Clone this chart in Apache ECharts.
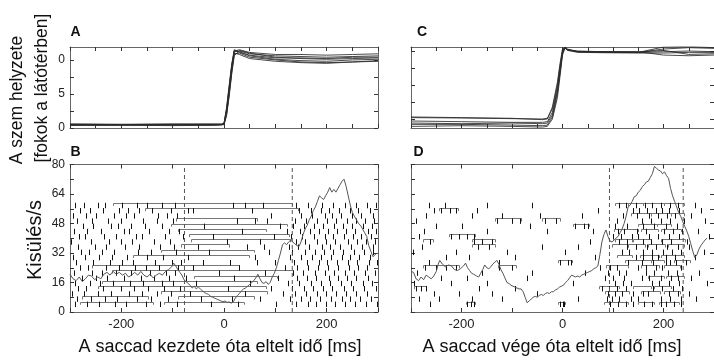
<!DOCTYPE html>
<html><head><meta charset="utf-8">
<script src="https://cdn.jsdelivr.net/npm/echarts@6/dist/echarts.min.js"></script>
<style>html,body{margin:0;padding:0;background:#fff}#c{width:714px;height:360px}</style>
</head><body><div id="c"></div><script>
const FONT = '"Liberation Sans", Arial, Helvetica, sans-serif';

// ---------- Panel A: eye position aligned to saccade onset ----------
const timeA = [-300,-200,-100,-20,-5,0,5,10,15,20,30,50,100,150,200,250,300];
const eyeA = [
 [0.5,0.45,0.5,0.5,0.5,0.6,2.5,5.5,8.8,11.2,11.3,10.9,10.6,10.5,10.4,10.5,10.6],
 [0.4,0.4,0.35,0.4,0.45,0.5,1.8,4.6,7.9,10.6,11.4,11.0,10.4,10.2,10.1,10.2,10.3],
 [0.6,0.55,0.6,0.55,0.6,0.7,3.0,6.2,9.4,11.5,11.2,10.6,10.1,9.9,9.8,10.0,10.1],
 [0.45,0.5,0.45,0.45,0.5,0.55,2.2,5.0,8.2,10.9,11.0,10.4,10.0,9.7,9.6,9.7,9.9],
 [0.55,0.5,0.55,0.6,0.55,0.65,2.8,6.0,9.1,11.3,11.5,11.1,10.8,10.8,10.7,10.8,10.9],
 [0.5,0.5,0.45,0.5,0.5,0.6,2.0,4.9,8.4,11.0,10.8,10.2,9.8,9.6,9.5,9.7,9.8],
 [0.4,0.45,0.5,0.45,0.5,0.55,2.6,5.8,9.0,11.4,11.1,10.7,10.3,10.3,10.2,10.4,10.4]
];
// ---------- Panel C: eye position aligned to saccade end ----------
const timeC = [-300,-200,-100,-40,-30,-20,-10,-5,0,5,10,30,80,150,200,250,300];
const eyeC = [
 [0.2,0.15,0.05,0.0,0.1,1.5,5.0,7.8,10.2,10.6,10.3,10.0,9.9,9.9,10.0,10.1,10.0],
 [-0.3,-0.4,-0.5,-0.5,-0.4,1.0,4.5,7.3,10.0,10.7,10.4,10.0,9.95,9.9,10.4,10.6,10.5],
 [-0.8,-0.8,-0.9,-1.0,-0.9,0.3,3.8,6.8,9.8,10.6,10.2,10.05,10.0,10.0,9.5,9.4,9.5],
 [-1.1,-1.0,-1.1,-1.2,-1.1,0.0,3.2,6.3,9.5,10.5,10.3,10.1,10.0,9.9,10.7,10.8,10.6],
 [0.3,0.2,0.1,-0.1,0.0,1.8,5.5,8.2,10.4,10.6,10.2,9.9,9.85,9.8,9.8,9.9,9.9],
 [-0.6,-0.7,-0.6,-0.7,-0.6,0.6,4.2,7.0,9.9,10.7,10.3,10.0,10.0,9.95,10.2,9.6,9.7]
];

// ---------- Panel B: firing rate aligned to saccade onset ----------
const rateBt = [-300,-294,-288,-282,-276,-270,-264,-258,-252,-246,-240,-234,-228,-222,-216,-210,-204,-198,-192,-186,-180,-174,-168,-162,-156,-150,-144,-138,-132,-126,-120,-114,-108,-102,-98,-94,-90,-86,-82,-78,-74,-70,-66,-62,-58,-54,-50,-46,-42,-38,-34,-30,-26,-22,-18,-14,-10,-6,-2,2,6,10,14,18,22,26,30,34,38,42,46,50,54,58,62,66,70,74,78,82,86,90,94,98,102,106,110,114,118,122,126,130,134,138,142,146,150,154,158,162,166,170,174,178,182,186,190,194,198,202,206,210,214,218,222,226,230,234,238,242,246,250,254,258,262,266,270,274,278,282,286,290,294,298,300];
const rateBv = [20.5,18,17,19,16.5,18,20,19.5,17.5,19,18,20.5,21.5,20,22,20.5,21.5,20,21,19,20,21.5,20,22,20,19,20.5,18.5,20,21,20,22,23,24.5,26.5,25,23,21.5,20,17.5,16.5,15.5,14.5,13,14,12.5,13.5,12.5,11.5,10.5,10,9.5,8.5,8,7.5,7,6.5,6,5.5,6,5.2,5.5,4.8,5.5,7.5,9,10,11.5,12.5,13,14,15,16,17,18.5,20.5,18,16,15.5,16.5,15,16,19,21,24,28,32,36.5,37.5,36.5,38,39,38,37,36,35.5,38,42,45,47,50,52,55,57,60,63,62,61,63,65,67.5,65,66.5,65,67,69,71,72,68,63,58,54,52,50,48,47,45,43,41,36,33,30,31,32,31.5];
const dashB = [-77, 133];

// ---------- Panel D: firing rate aligned to saccade end ----------
const rateDt = [-300,-295,-290,-285,-280,-275,-270,-265,-260,-255,-250,-246,-243,-238,-232,-226,-220,-214,-208,-202,-196,-192,-188,-184,-180,-176,-170,-166,-162,-158,-154,-150,-146,-142,-138,-134,-130,-126,-122,-118,-114,-110,-106,-102,-98,-94,-90,-86,-82,-78,-74,-70,-66,-62,-58,-54,-50,-46,-42,-38,-34,-30,-26,-22,-18,-14,-10,-6,-2,2,6,10,14,18,22,26,30,34,38,42,46,50,54,58,62,66,70,74,78,82,86,90,94,98,102,106,110,114,118,122,126,130,134,138,142,146,150,154,158,162,166,170,174,178,182,186,190,194,198,202,206,210,214,218,222,226,230,234,238,242,246,250,254,258,262,266,270,274,278,282,286];
const rateDv = [22,21.5,18,17,19,17.5,20,19,18,19.5,22,26,28,26,24.5,25.5,25,23,22.5,23.5,25,26.5,24,22.5,21,20.5,19.5,19,21,23,25.5,24,23.5,24.5,26,27,28,26,23,21,18.5,16,15.5,14.5,14,13.5,13,12.5,12.5,11,8,5,6,7,8,8.5,8,9,9.5,9,10,10.5,10,11,11,12,12.5,13.5,14,14.5,16,17,18.5,20,19.5,19,19.5,19,20,20.5,21,21.5,22,22.5,23.5,24,25,31,38,42,44.5,41,38.5,38,39,40,41,43,45,48,52,57,58,60,62.5,63,65,66,68,69,70.5,71,73,75,79,78,77,76.5,75,76,74,72.5,67,63,60,57,54,52,49,46.5,44,41,37,33,29.5,31,34,36,37.5,39,40];
const dashD = [93, 239];

// ---------- Rasters (spike times in ms, one list per trial, bottom trial first) ----------
const spikesB = [
 [-291,-266,-243,-212,-190,-152,-124,-92,-25,28,102,140,163,179,198,216,235,255,276,298],
 [-286,-259,-231,-208,-170,-143,-110,-45,15,70,128,150,168,187,209,230,246,265,286],
 [-297,-273,-246,-220,-186,-160,-130,-103,-66,40,115,138,159,182,199,218,237,257,278],
 [-284,-268,-235,-200,-176,-148,-116,-86,8,92,132,155,174,192,211,233,252,273,296],
 [-290,-262,-241,-216,-184,-157,-121,-99,-55,50,125,147,169,188,206,227,248,270,289],
 [-276,-250,-227,-195,-162,-137,-107,-75,20,105,142,161,180,204,222,240,258,281],
 [-293,-258,-237,-210,-181,-145,-113,-96,-10,80,135,154,177,196,214,236,254,275,294],
 [-281,-265,-229,-204,-174,-152,-126,-90,-60,30,118,143,164,183,202,223,243,261,279],
 [-288,-256,-222,-198,-178,-134,-102,-84,-40,12,65,100,136,162,185,200,220,241,260,282,299],
 [-295,-270,-244,-218,-189,-150,-118,-70,60,128,150,171,189,208,229,245,263,284],
 [-278,-263,-238,-214,-168,-142,-94,-30,88,133,157,178,194,213,231,253,272,290],
 [-285,-252,-230,-192,-165,-125,-98,-50,45,78,126,145,166,190,207,226,247,268,291],
 [-298,-260,-225,-201,-180,-136,-105,5,70,140,158,181,199,217,242,259,277,295],
 [-283,-270,-233,-210,-172,-160,-115,-80,-22,97,130,152,175,197,212,234,251,266,286],
 [-292,-266,-240,-195,-185,-146,-108,-88,35,122,148,168,186,203,221,238,256,280,297],
 [-275,-255,-220,-206,-182,-154,-120,-38,110,135,155,176,193,215,232,249,270,288],
 [-287,-258,-226,-200,-158,-131,-100,25,60,84,138,160,182,201,219,240,257,274,293],
 [-295,-268,-250,-215,-190,-176,-128,-112,-91,92,150,172,196,210,228,250,266,290],
 [-280,-262,-236,-205,-187,-166,-140,-103,-70,-60,55,146,170,188,205,224,245,262,285],
 [-290,-272,-245,-232,-198,-170,-150,-121,-95,18,40,75,140,163,190,212,236,258,279,296]
];
// [trial, start ms, end ms]
const bracketsB = [
 [0,-280,-139],[0,-116,39],[1,-277,-148],[1,-90,58],[2,-122,84],[3,-245,81],[4,-238,64],
 [5,-58,103],[6,-219,135],[7,-258,29],[9,-177,48],[10,-122,58],[11,-83,10],[12,-64,129],
 [13,-69,126],[14,-90,81],[15,-103,123],[16,-93,64],[18,-153,145],[19,-216,132]
];
const spikesD = [
 [-262,-190,-182,-176,-5,0,3,95,110,125,140,162,178,196,205,220,235],
 [-285,-245,-180,-120,30,88,99,112,135,150,195,212,235,265],
 [-255,-205,-140,-50,90,103,118,140,160,170,210,228,250],
 [-290,-280,-270,-165,-95,78,92,107,125,180,198,218,236],
 [-295,-220,-150,20,104,120,135,178,192,210,230,286],
 [-240,-190,-70,85,100,122,158,172,195,215,228,255],
 [-288,-160,-60,45,90,112,125,165,182,208,226,270],
 [-272,-250,-230,-210,-125,-100,75,95,108,150,165,185,197,235],
 [-265,-125,-5,10,16,130,158,180,204,212,225,245],
 [-230,-185,-95,65,145,160,178,190,205,222,262],
 [-296,-210,-110,5,118,131,160,177,199,217,235,280],
 [-278,-168,-145,-40,30,128,145,168,186,206,228,250],
 [-262,-175,-160,-140,55,112,128,160,175,197,214,246],
 [-285,-220,-205,-190,-176,100,115,137,150,172,190,211,230,290],
 [-275,-150,-30,60,110,122,147,166,201,218,236,268],
 [-250,-200,-65,25,42,50,104,127,160,181,204,226],
 [-290,-130,-100,-85,-35,-12,108,158,176,196,213,240,283],
 [-270,-180,-120,-45,38,120,148,172,190,206,222,255],
 [-255,-240,-222,-210,-170,70,140,152,168,185,198,210,230,275],
 [-265,-232,-150,-60,112,126,145,163,178,196,212,228,262]
];
const bracketsD = [
 [0,-192,-173],[0,-8,5],[0,82,130],[0,150,182],[0,191,230],
 [2,85,131],[2,156,194],[2,201,233],[3,-295,-270],[3,72,111],[3,140,176],[3,182,214],
 [5,170,200],[5,205,240],[7,-276,-205],[7,-128,-92],[7,86,130],[7,156,192],[7,201,233],
 [8,-8,18],[8,124,176],[8,176,201],[8,221,253],[9,108,137],[9,153,192],[9,195,240],
 [11,-179,-134],[11,98,130],[11,130,163],[11,169,202],[11,208,240],
 [12,-276,-257],[12,-179,-134],[12,104,137],[12,140,176],[12,195,243],
 [13,-224,-173],[14,101,150],[14,156,190],[14,195,235],[15,20,53],[15,150,188],[15,188,215],
 [16,-134,-82],[16,-40,-5],[17,135,175],[17,175,215],[17,215,240],
 [18,-244,-206],[19,104,130],[19,130,160],[19,160,200],[19,200,240]
];

// ---------- axes ----------
const xTicks50 = [-300,-250,-200,-150,-100,-50,0,50,100,150,200,250,300];
const xTicks100 = [-300,-200,-100,0,100,200,300];
const xLabelVals = [-200,0,200];
const yTicksEye = [0,2.5,5,7.5,10];
const yLabelValsA = [0,5,10];
const yLabelTextA = ['0','5','0'];
const yTicksRate = [0,8,16,24,32,40,48,56,64,72,80];
const yLabelValsB = [0,16,32,48,64,80];

const AXC = '#666';
function xAx(grid, pos, ticks, labels) {
  return {type:'value', gridIndex:grid, position:pos, min:-300, max:300,
    axisLine:{show:true, onZero:false, lineStyle:{color:AXC, width:1}},
    axisTick:{show:true, inside:true, length:4, customValues:ticks, lineStyle:{color:'#333'}},
    axisLabel:{show:!!labels, customValues:labels || [], margin:6, color:'#222', fontSize:13, fontFamily:FONT},
    splitLine:{show:false}};
}
function yAx(grid, pos, min, max, ticks, labels, fmt) {
  return {type:'value', gridIndex:grid, position:pos, min:min, max:max,
    axisLine:{show:true, onZero:false, lineStyle:{color:AXC, width:1}},
    axisTick:{show:true, inside:true, length:4, customValues:ticks, lineStyle:{color:'#333'}},
    axisLabel:{show:!!labels, customValues:labels || [], margin:5, color:'#222', fontSize:12, fontFamily:FONT, formatter: fmt},
    splitLine:{show:false}};
}
const fmtA = v => yLabelTextA[yLabelValsA.indexOf(v)];

const xAxis = [
  xAx(0,'bottom',xTicks50), xAx(0,'top',xTicks50),
  xAx(1,'bottom',xTicks50), xAx(1,'top',xTicks50),
  xAx(2,'bottom',xTicks100,xLabelVals), xAx(2,'top',xTicks100),
  xAx(3,'bottom',xTicks100,xLabelVals), xAx(3,'top',xTicks100)
];
const yAxis = [
  yAx(0,'left',0,11.9,yTicksEye,yLabelValsA,fmtA), yAx(0,'right',0,11.9,yTicksEye),
  yAx(1,'left',-1.34,10.7,yTicksEye), yAx(1,'right',-1.34,10.7,yTicksEye),
  yAx(2,'left',0,80,yTicksRate,yLabelValsB), yAx(2,'right',0,80,yTicksRate),
  yAx(3,'left',0,80,yTicksRate), yAx(3,'right',0,80,yTicksRate),
  {type:'value', gridIndex:2, min:-2, max:26.37, show:false},
  {type:'value', gridIndex:3, min:-2, max:26.37, show:false}
];

const series = [];
eyeA.forEach(tr => series.push({type:'line', xAxisIndex:0, yAxisIndex:0, symbol:'none', silent:true,
  data: timeA.map((t,i)=>[t,tr[i]]), lineStyle:{color:'#2a2a2a', width:1, opacity:0.85}}));
eyeC.forEach(tr => series.push({type:'line', xAxisIndex:2, yAxisIndex:2, symbol:'none', silent:true,
  data: timeC.map((t,i)=>[t,tr[i]]), lineStyle:{color:'#2a2a2a', width:1, opacity:0.85}}));

function spikeSeries(xi, yi, spikes) {
  const data = [];
  spikes.forEach((row, r) => row.forEach(t => data.push([t, r])));
  return {type:'custom', xAxisIndex:xi, yAxisIndex:yi, silent:true, clip:true, encode:{x:0, y:1}, data,
    renderItem:(p, api) => {
      const a = api.coord([api.value(0), api.value(1)]);
      const b = api.coord([api.value(0), api.value(1) - 1.05]);
      const x = Math.round(a[0]) + 0.5;
      return {type:'line', shape:{x1:x, y1:a[1], x2:x, y2:b[1]}, style:{stroke:'#111', lineWidth:1}};
    }};
}
function bracketSeries(xi, yi, br) {
  return {type:'custom', xAxisIndex:xi, yAxisIndex:yi, silent:true, clip:true, encode:{x:[1,2], y:0}, data: br,
    renderItem:(p, api) => {
      const r = api.value(0), s = api.value(1), e = api.value(2);
      const a = api.coord([s, r - 0.6]), b = api.coord([s, r]), c = api.coord([e, r]), d = api.coord([e, r - 0.6]);
      const xs = Math.round(a[0]) + 0.5, xe = Math.round(c[0]) + 0.5, yy = Math.round(b[1]) + 0.5;
      return {type:'polyline', shape:{points:[[xs,a[1]],[xs,yy],[xe,yy],[xe,d[1]]]}, style:{stroke:'#777', fill:null, lineWidth:1}};
    }};
}
series.push(bracketSeries(4, 8, bracketsB));
series.push(spikeSeries(4, 8, spikesB));
series.push(bracketSeries(6, 9, bracketsD));
series.push(spikeSeries(6, 9, spikesD));

dashB.forEach(x => series.push({type:'line', xAxisIndex:4, yAxisIndex:4, symbol:'none', silent:true,
  data:[[x,0],[x,80]], lineStyle:{color:'#555', width:1, type:[4,3]}}));
dashD.forEach(x => series.push({type:'line', xAxisIndex:6, yAxisIndex:6, symbol:'none', silent:true,
  data:[[x,0],[x,80]], lineStyle:{color:'#555', width:1, type:[4,3]}}));

series.push({type:'line', xAxisIndex:4, yAxisIndex:4, symbol:'none', silent:true,
  data: rateBt.map((t,i)=>[t,rateBv[i]]), lineStyle:{color:'#555', width:1}});
series.push({type:'line', xAxisIndex:6, yAxisIndex:6, symbol:'none', silent:true,
  data: rateDt.map((t,i)=>[t,rateDv[i]]), lineStyle:{color:'#555', width:1}});

function txt(text, x, y, size, opts) {
  return Object.assign({type:'text', x:x, y:y, silent:true,
    style:{text:text, fontSize:size, fontFamily:FONT, fill:'#111', align:'center', verticalAlign:'middle',
           textAlign:'center', textVerticalAlign:'middle', fontWeight:(opts&&opts.bold)?'bold':'normal'}},
    opts && opts.rot ? {rotation: Math.PI/2} : {});
}

const chart = echarts.init(document.getElementById('c'), null, {renderer:'canvas'});
chart.setOption({
  animation:false,
  backgroundColor:'#fff',
  grid:[
    {left:70, top:47, width:308, height:81},
    {left:411, top:47, width:310, height:81},
    {left:70, top:164.5, width:308, height:147.5},
    {left:411, top:164.5, width:310, height:147.5}
  ],
  xAxis, yAxis, series,
  graphic:[
    txt('A', 75.5, 32, 14, {bold:true}),
    txt('C', 422, 32, 14, {bold:true}),
    txt('B', 75.5, 152, 14, {bold:true}),
    txt('D', 418.5, 152, 14, {bold:true}),
    txt('A szem helyzete', 17, 100, 17.5, {rot:true}),
    txt('[fokok a látótérben]', 42, 88, 17.5, {rot:true}),
    txt('Kisülés/s', 35, 240, 20, {rot:true}),
    txt('A saccad kezdete óta eltelt idő [ms]', 220, 347, 18),
    txt('A saccad vége óta eltelt idő [ms]', 552, 347, 18)
  ]
});
</script></body></html>
